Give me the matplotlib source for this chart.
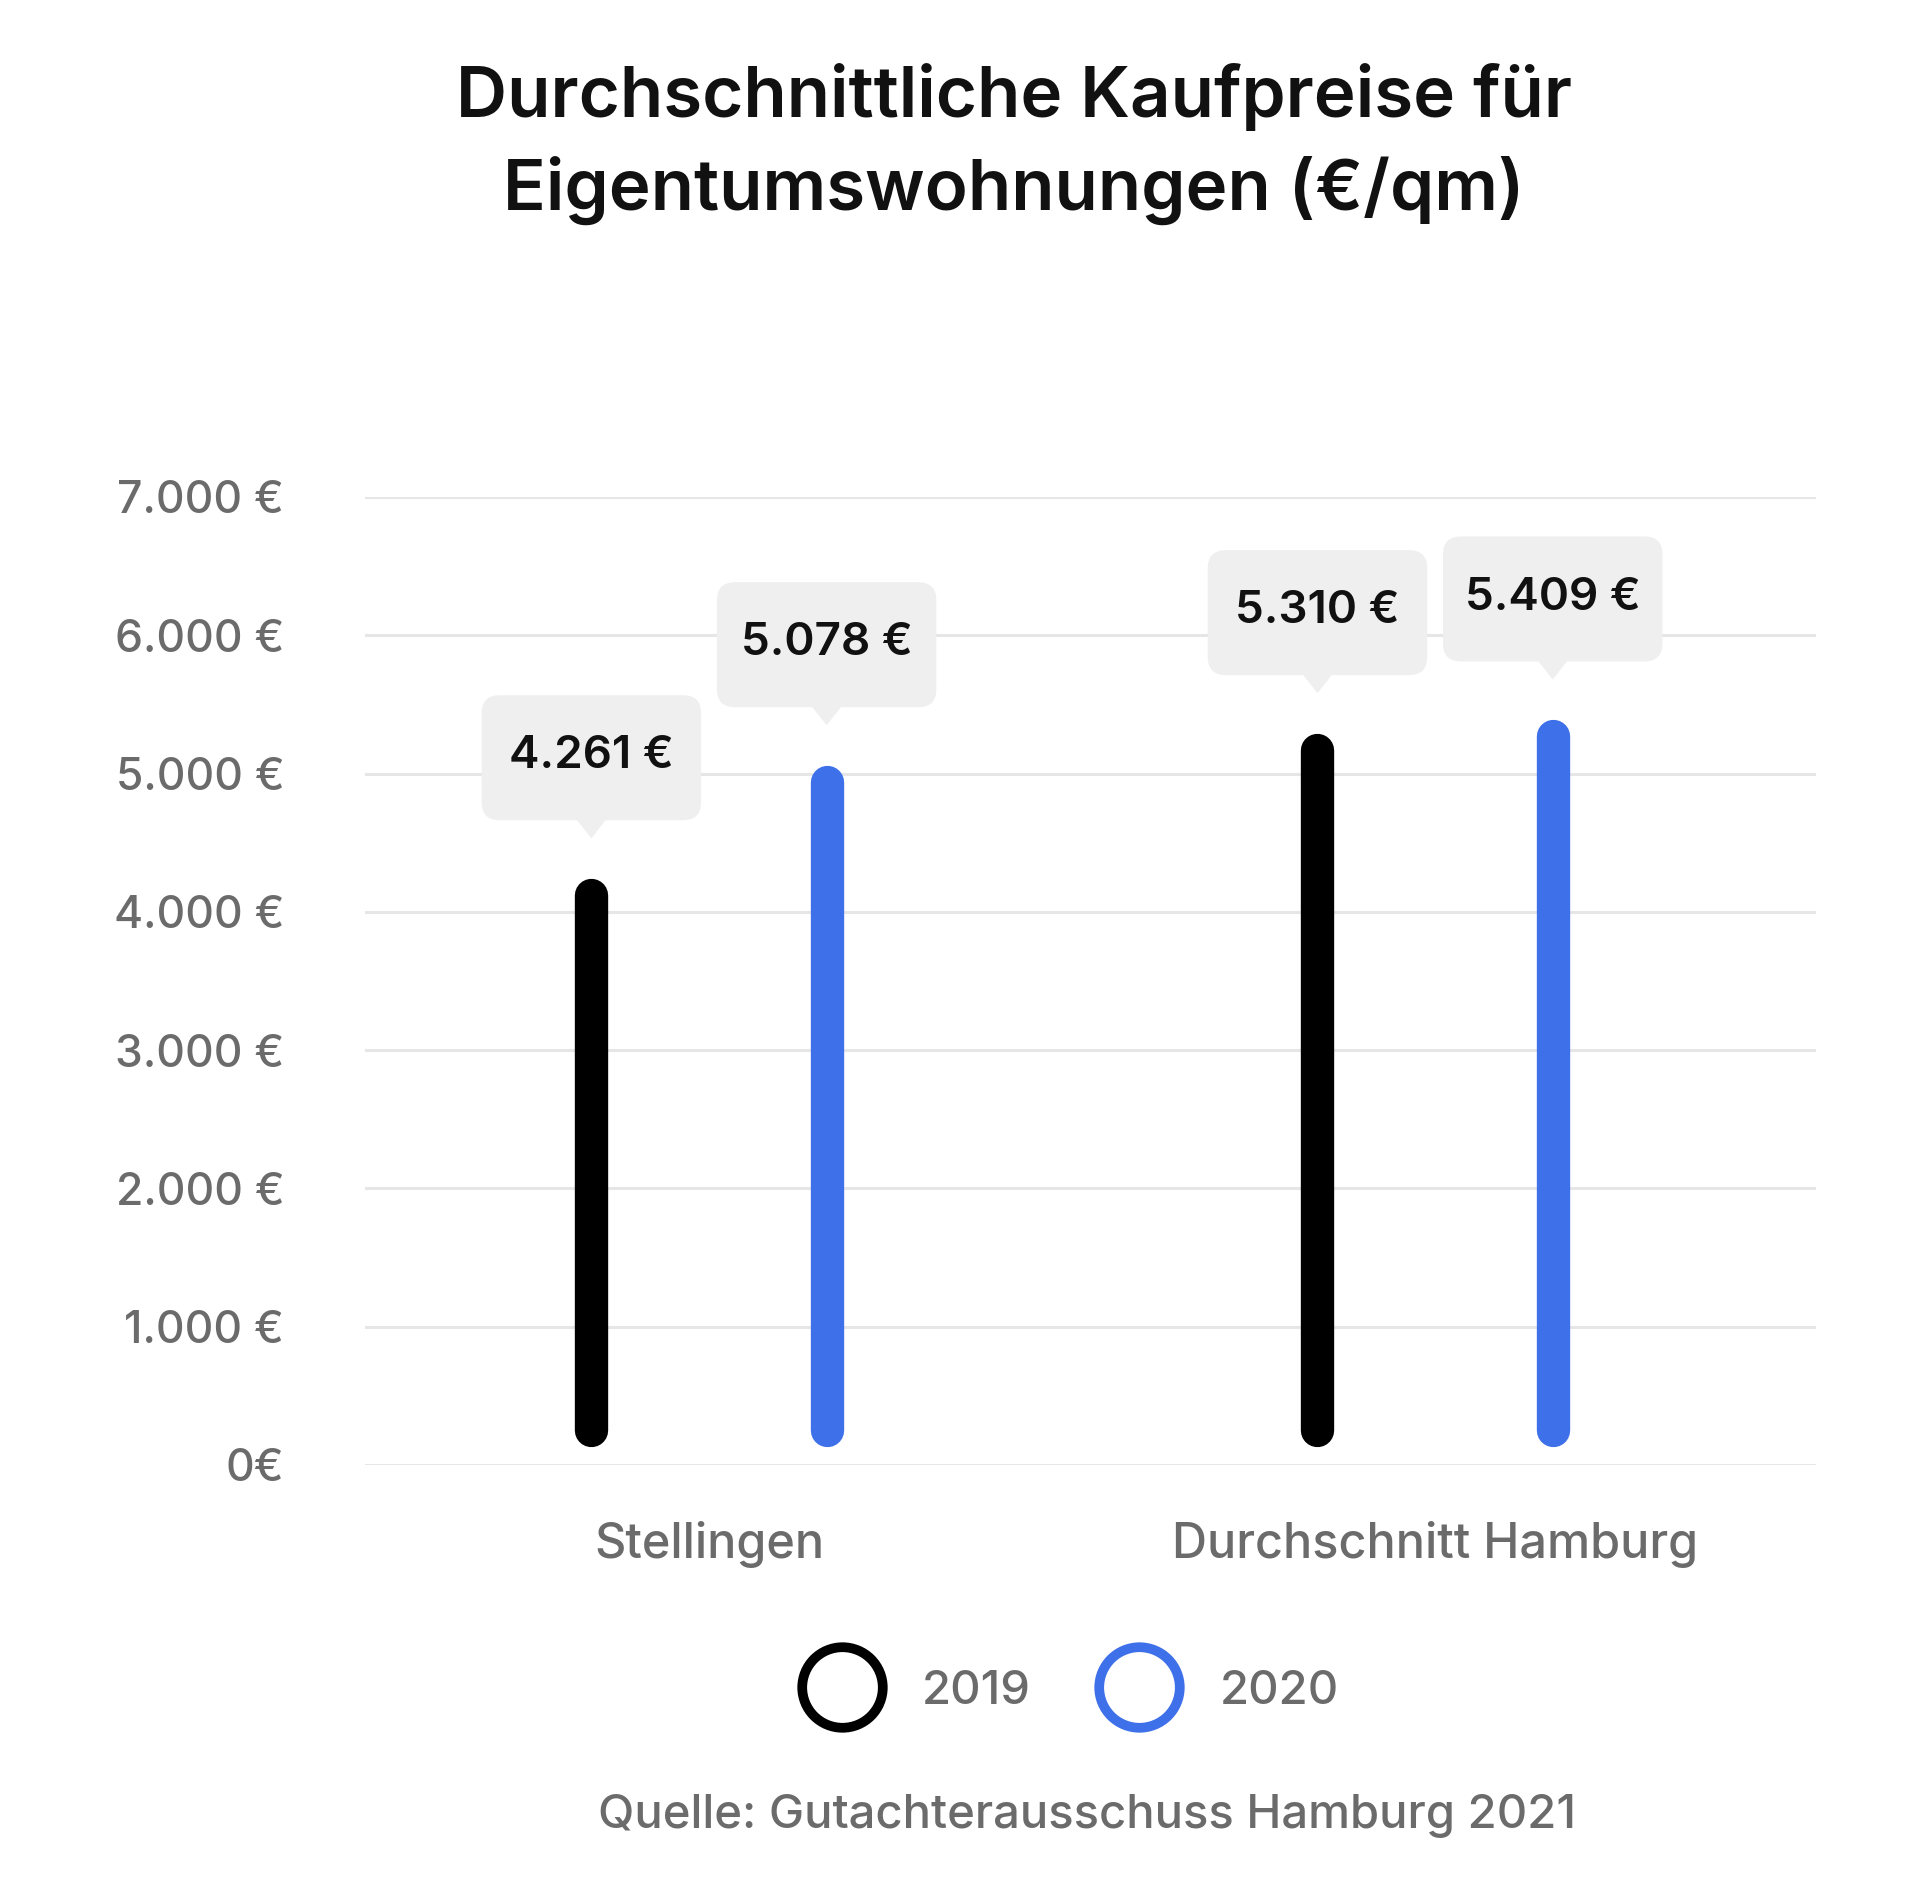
import matplotlib
matplotlib.use('Agg')
import matplotlib.pyplot as plt
import matplotlib.transforms as mtransforms
from matplotlib.lines import Line2D
from matplotlib.patches import FancyBboxPatch, Polygon

# --- data ---
categories = ['Stellingen', 'Durchschnitt Hamburg']
years = ['2019', '2020']
values_2019 = [4261, 5310]
values_2020 = [5078, 5409]
labels_2019 = ['4.261 €', '5.310 €']
labels_2020 = ['5.078 €', '5.409 €']
y_ticks = [0, 1000, 2000, 3000, 4000, 5000, 6000, 7000]
y_ticklabels = ['0€', '1.000 €', '2.000 €', '3.000 €', '4.000 €', '5.000 €', '6.000 €', '7.000 €']

colors = ['#000000', '#3e70e9']
grey = '#6b6b6b'
box_grey = '#efefef'

plt.rcParams['font.family'] = ['Inter', 'DejaVu Sans']

fig = plt.figure(figsize=(19.2, 18.84), dpi=100)
ax = fig.add_axes([0.190, 0.2224, 0.756, 0.5138])
ax.set_xlim(-0.474, 1.525)
ax.set_ylim(0, 7000)

# --- bars as thick lines with round caps ---
offset = 0.162
lw = 24
bottom = 255   # bars start a little above the zero line
for i, vals in enumerate([values_2019, values_2020]):
    for j, v in enumerate(vals):
        x = j + (i * 2 - 1) * offset
        ax.plot([x, x], [bottom, v - 140], color=colors[i], lw=lw,
                solid_capstyle='round', zorder=3)

# --- value labels: grey rounded box with pointer, sized in points ---
box_w, box_h = 158, 90
box_gap = 40
tip = 27
pts = mtransforms.Affine2D().scale(fig.dpi / 72.0)
for i, (vals, labs) in enumerate([(values_2019, labels_2019), (values_2020, labels_2020)]):
    for j, (v, lab) in enumerate(zip(vals, labs)):
        x = j + (i * 2 - 1) * offset
        tr = pts + mtransforms.ScaledTranslation(x, v, ax.transData)
        box = FancyBboxPatch((-box_w / 2, box_gap), box_w, box_h,
                             boxstyle='round,pad=0,rounding_size=13',
                             fc=box_grey, ec='none', transform=tr,
                             clip_on=False, zorder=4)
        ax.add_patch(box)
        tri = Polygon([(-11, box_gap + 1), (11, box_gap + 1), (0, tip)],
                      closed=True, fc=box_grey, ec='none', transform=tr,
                      clip_on=False, zorder=4)
        ax.add_patch(tri)
        ax.annotate(lab, xy=(x, v), xytext=(0, box_gap + box_h / 2 + 1),
                    textcoords='offset points', ha='center', va='center',
                    fontsize=33, fontweight='semibold', color='#111111', zorder=5)

# --- axes styling ---
ax.set_yticks(y_ticks)
ax.set_yticklabels(y_ticklabels, fontsize=32, color=grey, fontweight='medium')
ax.set_xticks([0, 1])
ax.set_xticklabels(categories, fontsize=35, color=grey, fontweight='medium')
ax.tick_params(axis='both', length=0)
ax.tick_params(axis='y', pad=58)
ax.tick_params(axis='x', pad=40)
ax.grid(axis='y', color='#e6e6e6', lw=2.2, zorder=0)
ax.set_axisbelow(True)
for s in ax.spines.values():
    s.set_visible(False)

# --- title ---
fig.text(0.528, 0.9235, 'Durchschnittliche Kaufpreise für\nEigentumswohnungen (€/qm)',
         ha='center', va='center', fontsize=51, fontweight='semibold',
         color='#111111', linespacing=1.47)

# --- legend ---
handles = [Line2D([], [], ls='none', marker='o', ms=58, mfc='white',
                  mec=c, mew=7) for c in colors]
fig.legend(handles, years, loc='center', bbox_to_anchor=(0.558, 0.102), ncol=2,
           frameon=False, labelcolor=grey, handletextpad=0.9,
           columnspacing=1.5, handlelength=1.6,
           prop={'weight': 'medium', 'size': 34})

# --- source ---
fig.text(0.566, 0.036, 'Quelle: Gutachterausschuss Hamburg 2021', ha='center',
         va='center', fontsize=34, color=grey, fontweight='medium')

fig.savefig('out.png', dpi=100, facecolor='white')
